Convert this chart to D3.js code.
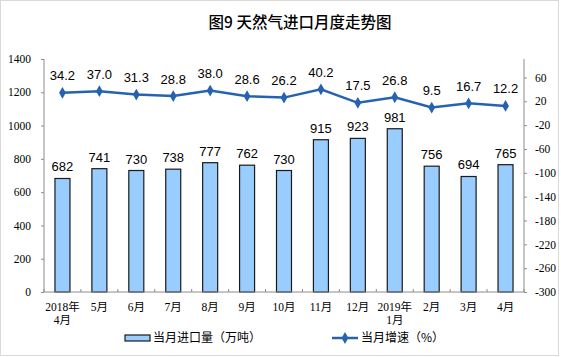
<!DOCTYPE html>
<html><head><meta charset="utf-8">
<script src="https://cdn.jsdelivr.net/npm/d3@7"></script>
<style>body{margin:0;background:#fff}svg{display:block}</style>
</head><body>
<svg id="c" width="561" height="357"></svg>
<script>
const categories = [["2018年","4月"],["5月"],["6月"],["7月"],["8月"],["9月"],["10月"],["11月"],["12月"],["2019年","1月"],["2月"],["3月"],["4月"]];
const importVolume = [682,741,730,738,777,762,730,915,923,981,756,694,765];
const growthRate = [34.2,37.0,31.3,28.8,38.0,28.6,26.2,40.2,17.5,26.8,9.5,16.7,12.2];
const leftTicks = [0,200,400,600,800,1000,1200,1400];
const rightTicks = [-300,-260,-220,-180,-140,-100,-60,-20,20,60];
const title = "图9 天然气进口月度走势图";
const legendBar = "当月进口量（万吨）";
const legendLine = "当月增速（%）";

const svg = d3.select("#c");
const L = 44, R = 524, B = 292, T = 59;
const serif = "'Liberation Serif','Noto Sans CJK SC',serif";
const sans = "'Liberation Sans',Arial,sans-serif";
const cjk = "'Noto Sans CJK SC',sans-serif";

svg.append("rect").attr("x",0.5).attr("y",0.5).attr("width",558).attr("height",355)
  .attr("fill","#fff").attr("stroke","#d9d9d9");

svg.append("text").attr("x",300).attr("y",28).attr("text-anchor","middle").style("white-space","pre")
  .attr("font-family",cjk).attr("font-size",15.5).attr("font-weight",500).attr("fill","#000").text(title);

const idx = d3.range(categories.length);
const xb = d3.scaleBand().domain(idx).range([L,R]);
const yL = d3.scaleLinear().domain([0,1400]).range([B,T]);
const yR = d3.scaleLinear().domain([-300,91]).range([B,T]);
const cx = i => xb(i)+xb.bandwidth()/2;

// bars
svg.append("g").selectAll("rect").data(importVolume).join("rect")
  .attr("x",(d,i)=>cx(i)-7.5).attr("width",15)
  .attr("y",d=>yL(d)).attr("height",d=>B-yL(d))
  .attr("fill","#99ccff").attr("stroke","#1a1a1a").attr("stroke-width",1.2);

svg.append("g").selectAll("text").data(importVolume).join("text")
  .attr("x",(d,i)=>cx(i)).attr("y",d=>yL(d)-7)
  .attr("text-anchor","middle").attr("font-family",sans).attr("font-size",13).text(d=>d);

// left axis
const axL = d3.axisLeft(yL).tickValues(leftTicks).tickFormat(d=>String(d)).tickSize(3).tickPadding(10);
const gL = svg.append("g").attr("transform",`translate(${L},0)`).call(axL);
gL.selectAll("text").attr("font-family",serif).attr("font-size",11.5).attr("fill","#000");
gL.selectAll("path,line").attr("stroke","#8c8c8c");
gL.select(".domain").attr("d",`M0,${B}V${T}`);

// right axis
const axR = d3.axisRight(yR).tickValues(rightTicks).tickFormat(d=>String(d)).tickSize(3).tickPadding(8);
const gR = svg.append("g").attr("transform",`translate(${R},0)`).call(axR);
gR.selectAll("text").attr("font-family",serif).attr("font-size",11.5).attr("fill","#000");
gR.selectAll("path,line").attr("stroke","#8c8c8c");
gR.select(".domain").attr("d",`M0,${B}V${T}`);

// bottom axis
const gB = svg.append("g").attr("transform",`translate(0,${B})`);
gB.append("line").attr("x1",L).attr("x2",R).attr("stroke","#8c8c8c");
gB.selectAll("line.t").data(d3.range(categories.length+1)).join("line").attr("class","t")
  .attr("x1",i=>L+i*xb.step()).attr("x2",i=>L+i*xb.step()).attr("y1",0).attr("y2",-3).attr("stroke","#8c8c8c");
const xl = gB.selectAll("text").data(categories).join("text")
  .attr("text-anchor","middle").attr("font-family",serif).attr("font-size",11.5).attr("fill","#000");
xl.each(function(d,i){
  const t = d3.select(this);
  d.forEach((s,k)=>t.append("tspan").attr("x",cx(i)).attr("y",19+k*13).text(s));
});

// line
const line = d3.line().x((d,i)=>cx(i)).y(d=>yR(d));
svg.append("path").datum(growthRate).attr("d",line).attr("fill","none")
  .attr("stroke","#2563b0").attr("stroke-width",2.5);
const diamond = d3.symbol().type(d3.symbolDiamond).size(40);
svg.append("g").selectAll("path").data(growthRate).join("path")
  .attr("d",diamond).attr("transform",(d,i)=>`translate(${cx(i)},${yR(d)})`)
  .attr("fill","#2563b0");
svg.append("g").selectAll("text").data(growthRate).join("text")
  .attr("x",(d,i)=>cx(i)).attr("y",d=>yR(d)-12.5)
  .attr("text-anchor","middle").attr("font-family",sans).attr("font-size",13).text(d=>d.toFixed(1));

// legend
svg.append("rect").attr("x",125).attr("y",335).attr("width",25).attr("height",6)
  .attr("fill","#99ccff").attr("stroke","#1a1a1a").attr("stroke-width",1.2);
svg.append("text").attr("x",153).attr("y",342).attr("font-family",cjk).attr("font-size",12).text(legendBar);
svg.append("line").attr("x1",332).attr("x2",358).attr("y1",338).attr("y2",338)
  .attr("stroke","#2563b0").attr("stroke-width",2.5);
svg.append("path").attr("d",diamond).attr("transform","translate(345,338)").attr("fill","#2563b0");
svg.append("text").attr("x",361).attr("y",342).attr("font-family",cjk).attr("font-size",12).text(legendLine);
</script>
</body></html>
